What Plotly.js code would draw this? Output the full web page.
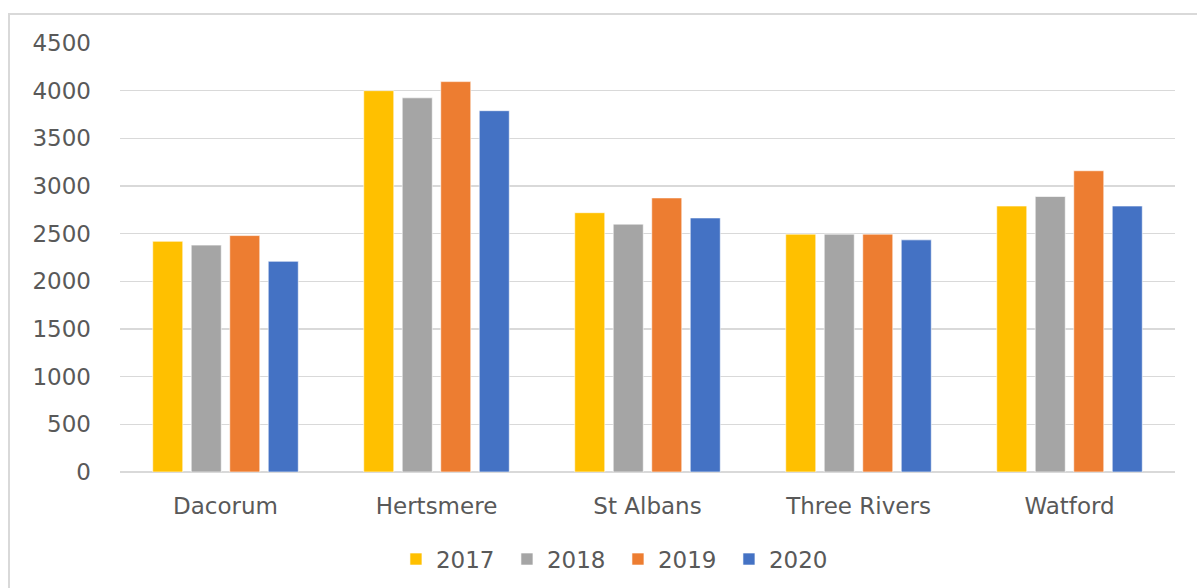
<!DOCTYPE html>
<html>
<head>
<meta charset="utf-8">
<script src="https://cdn.plot.ly/plotly-3.0.1.min.js"></script>
<style>
html,body{margin:0;padding:0;background:#fff;overflow:hidden;}
#chart{position:absolute;left:0;top:0;width:1197px;height:588px;}
#frame{position:absolute;left:8px;top:13px;width:1400px;height:800px;border:2px solid #d9d9d9;pointer-events:none;}
</style>
</head>
<body>
<div id="chart"></div>
<div id="frame"></div>
<script>
const categories = ["Dacorum", "Hertsmere", "St Albans", "Three Rivers", "Watford"];
const years = ["2017", "2018", "2019", "2020"];
const values2017 = [2420, 4000, 2720, 2495, 2790];
const values2018 = [2380, 3925, 2600, 2495, 2890];
const values2019 = [2480, 4095, 2875, 2495, 3160];
const values2020 = [2210, 3790, 2665, 2435, 2790];
const colors = ["#FFC000", "#A5A5A5", "#ED7D31", "#4472C4"];
const series = [values2017, values2018, values2019, values2020];

const traces = series.map((vals, i) => ({
  type: "bar",
  name: years[i],
  x: categories,
  y: vals,
  marker: {color: colors[i], line: {color: "rgba(255,255,255,0.6)", width: 1}},
  hoverinfo: "x+y+name"
}));

const fam = "DejaVu Sans, sans-serif";

const layout = {
  width: 1197,
  height: 588,
  margin: {l: 120, r: 22, t: 43, b: 116, autoexpand: false},
  paper_bgcolor: "#ffffff",
  plot_bgcolor: "#ffffff",
  font: {family: fam, size: 23, color: "#595959"},
  barmode: "group",
  bargap: 0.27,
  bargroupgap: 0.22,
  showlegend: true,
  legend: {
    orientation: "h",
    x: 0.472, xanchor: "center",
    y: -0.203, yanchor: "middle",
    font: {family: fam, size: 23, color: "#595959"},
    entrywidth: 66,
    entrywidthmode: "pixels",
    traceorder: "normal"
  },
  xaxis: {
    type: "category",
    showgrid: false,
    zeroline: false,
    showline: false,
    ticks: "",
    ticklabelstandoff: 18,
    tickfont: {family: fam, size: 23, color: "#595959"}
  },
  yaxis: {
    range: [0, 4500],
    tickvals: [0, 500, 1000, 1500, 2000, 2500, 3000, 3500, 4000, 4500],
    ticktext: ["0", "500", "1000", "1500", "2000", "2500", "3000", "3500", "4000", "4500"],
    showgrid: true,
    gridcolor: "#d9d9d9",
    gridwidth: 1.5,
    zeroline: true,
    zerolinecolor: "#d9d9d9",
    zerolinewidth: 1.5,
    showline: false,
    ticks: "",
    ticklabelstandoff: 28,
    tickfont: {family: fam, size: 23, color: "#595959"}
  }
};

Plotly.newPlot("chart", traces, layout, {displayModeBar: false, staticPlot: true});
</script>
</body>
</html>
